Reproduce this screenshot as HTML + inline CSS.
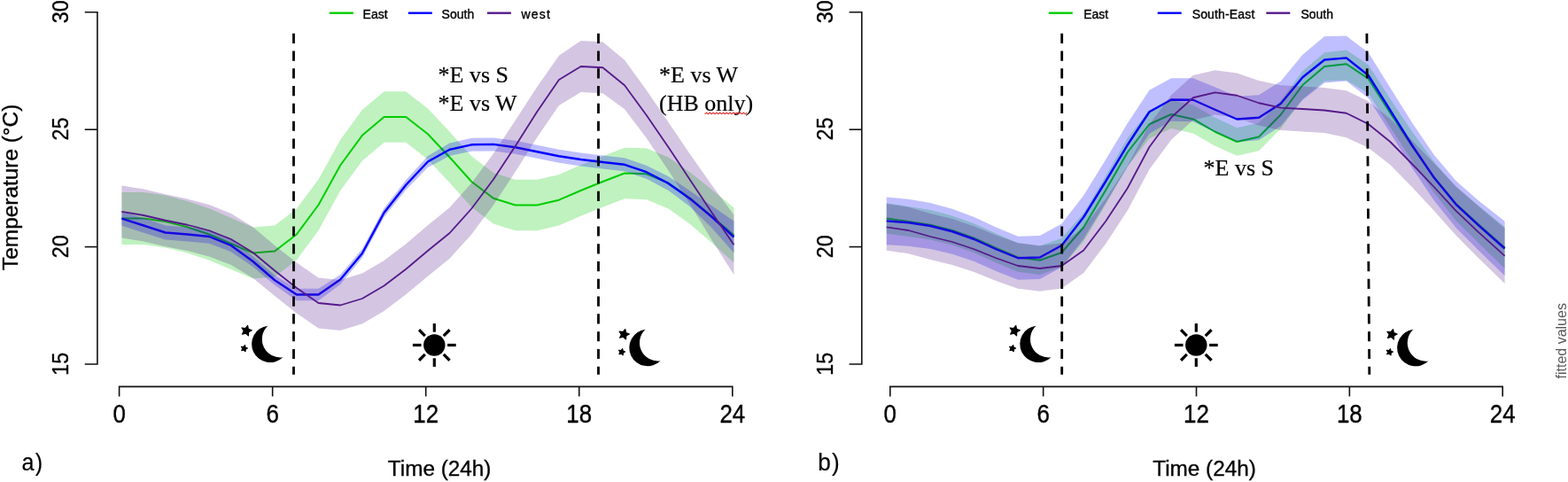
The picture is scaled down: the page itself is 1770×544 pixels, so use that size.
<!DOCTYPE html>
<html lang="en">
<head>
<meta charset="utf-8">
<title>Temperature over 24h by orientation</title>
<style>
html,body{margin:0;padding:0;background:#fff;}
body{width:1770px;height:544px;overflow:hidden;}
svg{display:block;}
text{font-family:"Liberation Sans",sans-serif;fill:#000;stroke:#000;stroke-width:.35px;paint-order:stroke;}
.band{fill-opacity:.25;stroke:none;}
.ln{fill:none;stroke-width:2;stroke-linejoin:round;}
.ln.b{stroke-width:2.4;}
.ln.p{stroke-width:1.8;}
.ax{fill:none;stroke:#111;stroke-width:1.6;}
.dash{fill:none;stroke:#000;stroke-width:2.8;stroke-dasharray:11.2 8.59;}
.yt{font-size:25px;text-anchor:middle;}
.xt{font-size:28px;text-anchor:middle;}
.yl{font-size:24.5px;text-anchor:middle;}
.xl{font-size:24.2px;text-anchor:middle;}
.pl{font-size:27px;letter-spacing:1.2px;stroke-width:.2px;}
.lt{font-size:14px;}
.lg{fill:none;stroke-width:2.4;}
.an{font-family:"Liberation Serif",serif;font-size:26px;stroke-width:.2px;}
.fv{font-size:16px;fill:#595959;stroke:none;}
.ico{fill:#000;}
.st{stroke:#000;stroke-width:1.1;stroke-linejoin:round;}
.ray{stroke:#000;stroke-width:3.2;}
.sq{fill:none;stroke:#e32222;stroke-width:1.15;}
</style>
</head>
<body>
<svg width="1770" height="544" viewBox="0 0 1770 544">
<rect width="1770" height="544" fill="#fff"/>
<g id="left">
<polygon class="band" fill="#00cd00" points="137.4,217.1 162.08,217 186.76,220.6 211.44,226.95 236.12,235.3 260.8,245.9 285.48,256.5 310.16,254.5 334.84,235.6 359.52,202.45 384.2,157.7 408.88,124 433.56,103.2 458.24,103.2 482.92,122.45 507.6,148.7 532.28,176.2 556.96,194.95 581.64,202.7 606.32,202.7 631,196.9 655.68,186.2 680.36,176.2 705.04,166.7 729.72,167.35 754.4,177.5 779.08,194.5 803.76,214.2 828.44,234.5 828.44,296.5 803.76,274.2 779.08,253.1 754.4,235.5 729.72,225.15 705.04,224.3 680.36,233.8 655.68,243.8 631,254.5 606.32,260.3 581.64,260.3 556.96,252.55 532.28,233.8 507.6,206.3 482.92,180.05 458.24,160.8 433.56,160.8 408.88,181.6 384.2,215.3 359.52,260.05 334.84,293.4 310.16,312.5 285.48,314.5 260.8,304.1 236.12,293.7 211.44,285.55 186.76,279.4 162.08,276 137.4,276.1"/>
<polyline class="ln g" stroke="#00cd00" points="137.4,246.6 162.08,246.5 186.76,250 211.44,256.25 236.12,264.5 260.8,275 285.48,285.5 310.16,283.5 334.84,264.5 359.52,231.25 384.2,186.5 408.88,152.8 433.56,132 458.24,132 482.92,151.25 507.6,177.5 532.28,205 556.96,223.75 581.64,231.5 606.32,231.5 631,225.7 655.68,215 680.36,205 705.04,195.5 729.72,196.25 754.4,206.5 779.08,223.8 803.76,244.2 828.44,265.5"/>
<polygon class="band" fill="#0000ff" points="137.4,238.4 162.08,246.3 186.76,254.5 211.44,256.5 236.12,259.2 260.8,269.8 285.48,289 310.16,310.75 334.84,325.7 359.52,325.7 384.2,310 408.88,281 433.56,235 458.24,203.3 482.92,176 507.6,161.55 532.28,155.8 556.96,155.4 581.64,158.75 606.32,163.75 631,168.75 655.68,172.5 680.36,175.5 705.04,178.3 729.72,186.7 754.4,198.9 779.08,215.4 803.76,232.5 828.44,249.5 828.44,285.5 803.76,257.5 779.08,233.4 754.4,214.9 729.72,201.7 705.04,193.3 680.36,190.5 655.68,187.5 631,183.75 606.32,178.75 581.64,173.75 556.96,170.4 532.28,170.8 507.6,175.95 482.92,189 458.24,214.3 433.56,245 408.88,291 384.2,321 359.52,339.3 334.84,339.3 310.16,321.75 285.48,301 260.8,284.2 236.12,274.8 211.44,272.5 186.76,270.5 162.08,262.7 137.4,254.8"/>
<polyline class="ln b" stroke="#0000ff" points="137.4,246.6 162.08,254.5 186.76,262.5 211.44,264.5 236.12,267 260.8,277 285.48,295 310.16,316.25 334.84,332.5 359.52,332.5 384.2,315.5 408.88,286 433.56,240 458.24,208.8 482.92,182.5 507.6,168.75 532.28,163.3 556.96,162.9 581.64,166.25 606.32,171.25 631,176.25 655.68,180 680.36,183 705.04,185.8 729.72,194.2 754.4,206.9 779.08,224.4 803.76,245 828.44,267.5"/>
<polygon class="band" fill="#551a8b" points="137.4,209.4 162.08,213.5 186.76,219.35 211.44,224.45 236.12,231.05 260.8,241 285.48,256.2 310.16,276.9 334.84,296.5 359.52,313.5 384.2,316 408.88,308.5 433.56,294 458.24,275.15 482.92,254.3 507.6,234.2 532.28,206.6 556.96,173.5 581.64,136 606.32,98 631,62.8 655.68,46 680.36,47.25 705.04,67.65 729.72,101.8 754.4,137.8 779.08,174.2 803.76,209.3 828.44,242.6 828.44,310 803.76,271.3 779.08,230.7 754.4,192.2 729.72,155.7 705.04,123.35 680.36,105.25 655.68,104 631,119 606.32,155 581.64,194 556.96,231.5 532.28,264.4 507.6,291.8 482.92,311.7 458.24,332.35 433.56,351 408.88,365.5 384.2,373 359.52,370.5 334.84,353.5 310.16,334.1 285.48,313.8 260.8,299 236.12,289.45 211.44,283.05 186.76,278.15 162.08,272.5 137.4,268.4"/>
<polyline class="ln p" stroke="#551a8b" points="137.4,238.9 162.08,243 186.76,248.75 211.44,253.75 236.12,260.25 260.8,270 285.48,285 310.16,305.5 334.84,325 359.52,342 384.2,344.5 408.88,337 433.56,322.5 458.24,303.75 482.92,283 507.6,263 532.28,235.5 556.96,202.5 581.64,165 606.32,126 631,90 655.68,75 680.36,76.25 705.04,96.25 729.72,130 754.4,166 779.08,203.2 803.76,240.3 828.44,276.3"/>
<path class="dash" d="M331.5 37.7V422.7M675.5 37.7V422.7"/>
<path class="ax" d="M95.7 13.8 H109.9 V411 H95.7"/>
<path class="ax" d="M95.7 146.2 H109.9"/>
<path class="ax" d="M95.7 278.6 H109.9"/>
<path class="ax" d="M134.6 447.4 V436.4 H826.8 V447.4"/>
<path class="ax" d="M307.65 436.4 V447.4"/>
<path class="ax" d="M480.7 436.4 V447.4"/>
<path class="ax" d="M653.75 436.4 V447.4"/>
<text class="yt" transform="translate(76.8 13.2) rotate(-90) scale(.93 1)">30</text>
<text class="yt" transform="translate(76.8 145.6) rotate(-90) scale(.93 1)">25</text>
<text class="yt" transform="translate(76.8 278.3) rotate(-90) scale(.93 1)">20</text>
<text class="yt" transform="translate(76.8 410.7) rotate(-90) scale(.93 1)">15</text>
<text class="xt" transform="translate(134.6 476.8) scale(.925 1.035)">0</text>
<text class="xt" transform="translate(307.65 476.8) scale(.925 1.035)">6</text>
<text class="xt" transform="translate(480.7 476.8) scale(.925 1.035)">12</text>
<text class="xt" transform="translate(653.75 476.8) scale(.925 1.035)">18</text>
<text class="xt" transform="translate(826.8 476.8) scale(.925 1.035)">24</text>
<text class="yl" transform="translate(20.3 211.3) rotate(-90) scale(.996 1)">Temperature (°C)</text>
<text class="xl" transform="translate(496.1 536.9) scale(1.005 1)">Time (24h)</text>
<text class="pl" transform="translate(24.6 530.7) scale(.93 1.02)">a)</text>
<path class="lg" stroke="#00cd00" d="M371.9 14.7h27"/>
<text class="lt" x="409.6" y="21.3">East</text>
<path class="lg" stroke="#0000ff" d="M460.8 14.7h27"/>
<text class="lt" x="498.6" y="21.3">South</text>
<path class="lg" stroke="#551a8b" d="M549.9 14.7h27"/>
<text class="lt" x="588.4" y="21.3" textLength="32.6">west</text>
<g class="ico"><g transform="translate(304.9 388.3)"><path d="M-2.57 -20.64 A20.8 20.8 0 1 0 14.46 14.95 A20.7 20.7 0 0 1 -2.57 -20.64 Z"/><polygon class="st" points="-25.32,-20.92 -24.5,-16.93 -20.71,-15.43 -24.26,-13.41 -24.51,-9.34 -27.53,-12.09 -31.47,-11.08 -29.79,-14.79 -31.97,-18.23 -27.92,-17.78"/><polygon class="st" points="-28.38,1.21 -27.84,3.68 -25.51,4.63 -27.69,5.91 -27.88,8.42 -29.76,6.74 -32.21,7.34 -31.2,5.03 -32.52,2.89 -30.01,3.14"/></g><g transform="translate(490.3 389.5)"><circle r="12.2"/><line class="ray" x1="0" y1="-14.8" x2="0" y2="-24.4" transform="rotate(0)"/><line class="ray" x1="0" y1="-14.8" x2="0" y2="-24.4" transform="rotate(45)"/><line class="ray" x1="0" y1="-14.8" x2="0" y2="-24.4" transform="rotate(90)"/><line class="ray" x1="0" y1="-14.8" x2="0" y2="-24.4" transform="rotate(135)"/><line class="ray" x1="0" y1="-14.8" x2="0" y2="-24.4" transform="rotate(180)"/><line class="ray" x1="0" y1="-14.8" x2="0" y2="-24.4" transform="rotate(225)"/><line class="ray" x1="0" y1="-14.8" x2="0" y2="-24.4" transform="rotate(270)"/><line class="ray" x1="0" y1="-14.8" x2="0" y2="-24.4" transform="rotate(315)"/></g><g transform="translate(731.1 392.4)"><path d="M-2.57 -20.64 A20.8 20.8 0 1 0 14.46 14.95 A20.7 20.7 0 0 1 -2.57 -20.64 Z"/><polygon class="st" points="-25.32,-20.92 -24.5,-16.93 -20.71,-15.43 -24.26,-13.41 -24.51,-9.34 -27.53,-12.09 -31.47,-11.08 -29.79,-14.79 -31.97,-18.23 -27.92,-17.78"/><polygon class="st" points="-28.38,1.21 -27.84,3.68 -25.51,4.63 -27.69,5.91 -27.88,8.42 -29.76,6.74 -32.21,7.34 -31.2,5.03 -32.52,2.89 -30.01,3.14"/></g></g>
<text class="an" x="494.6" y="93.4">*E vs S</text>
<text class="an" x="494.6" y="124.7">*E vs W</text>
<text class="an" x="744" y="93.4">*E vs W</text>
<text class="an" x="744.1" y="124.7">(HB only)</text>
<path class="sq" d="M795.6 128.6l1.9 -1.3l1.9 1.3l1.9 -1.3l1.9 1.3l1.9 -1.3l1.9 1.3l1.9 -1.3l1.9 1.3l1.9 -1.3l1.9 1.3l1.9 -1.3l1.9 1.3l1.9 -1.3l1.9 1.3l1.9 -1.3l1.9 1.3l1.9 -1.3l1.9 1.3l1.9 -1.3l1.9 1.3l1.9 -1.3l1.9 1.3l1.9 -1.3l1.9 1.3l1.9 -1.3"/>
</g>
<g id="right">
<polygon class="band" fill="#00cd00" points="1000.75,229.2 1025.47,233 1050.19,236.95 1074.91,243.4 1099.63,252.25 1124.35,263.6 1149.07,274.2 1173.79,277.55 1198.51,268.8 1223.23,240.4 1247.95,199 1272.67,156 1297.39,124.25 1322.11,113 1346.83,118.4 1371.55,132.75 1396.27,144.2 1420.99,138.7 1445.71,113.7 1470.43,80.2 1495.15,59.2 1519.87,56.45 1544.59,72.95 1569.31,111.5 1594.03,148.5 1618.75,182.5 1643.47,211 1668.19,231.5 1692.91,251.5 1698.6,256 1698.6,303 1692.91,297.5 1668.19,273.5 1643.47,249 1618.75,217.5 1594.03,181.5 1569.31,143.5 1544.59,105.55 1519.87,90.55 1495.15,91.6 1470.43,111.8 1445.71,145.3 1420.99,170.3 1396.27,175.8 1371.55,164.75 1346.83,150.4 1322.11,145 1297.39,156.25 1272.67,188 1247.95,231 1223.23,272.6 1198.51,301.2 1173.79,309.95 1149.07,306.8 1124.35,296.4 1099.63,285.25 1074.91,276.6 1050.19,270.55 1025.47,267 1000.75,263.6"/>
<polyline class="ln g" stroke="#00cd00" points="1000.75,246.4 1025.47,250 1050.19,253.75 1074.91,260 1099.63,268.75 1124.35,280 1149.07,290.5 1173.79,293.75 1198.51,285 1223.23,256.5 1247.95,215 1272.67,172 1297.39,140.25 1322.11,129 1346.83,134.4 1371.55,148.75 1396.27,160 1420.99,154.5 1445.71,129.5 1470.43,96 1495.15,75 1519.87,72.25 1544.59,88.75 1569.31,127.5 1594.03,165 1618.75,200 1643.47,230 1668.19,252.5 1692.91,274.5 1698.6,279.5"/>
<polygon class="band" fill="#0000ff" points="1000.75,222.5 1025.47,224.75 1050.19,229 1074.91,235.75 1099.63,245 1124.35,256.45 1149.07,266.65 1173.79,265.9 1198.51,252.5 1223.23,220.6 1247.95,180.6 1272.67,139.35 1297.39,101.85 1322.11,88.2 1346.83,88.15 1371.55,98.35 1396.27,108.7 1420.99,107.15 1445.71,91.8 1470.43,61.75 1495.15,40.9 1519.87,40.6 1544.59,59.2 1569.31,98.9 1594.03,138.5 1618.75,174.7 1643.47,204 1668.19,225.7 1692.91,245.2 1698.6,249.7 1698.6,311.3 1692.91,305.8 1668.19,281.7 1643.47,257 1618.75,226.3 1594.03,189.5 1569.31,149.9 1544.59,110.8 1519.87,91.4 1495.15,93.5 1470.43,112.75 1445.71,142.2 1420.99,158.35 1396.27,160.3 1371.55,149.15 1346.83,137.35 1322.11,136.8 1297.39,150.65 1272.67,188.15 1247.95,229.4 1223.23,269.4 1198.51,301.5 1173.79,315.1 1149.07,315.85 1124.35,306.05 1099.63,295 1074.91,286.75 1050.19,281 1025.47,277.75 1000.75,276.3"/>
<polyline class="ln b" stroke="#0000ff" points="1000.75,249.4 1025.47,251.25 1050.19,255 1074.91,261.25 1099.63,270 1124.35,281.25 1149.07,291.25 1173.79,290.5 1198.51,277 1223.23,245 1247.95,205 1272.67,163.75 1297.39,126.25 1322.11,112.5 1346.83,112.75 1371.55,123.75 1396.27,134.5 1420.99,132.75 1445.71,117 1470.43,87.25 1495.15,67.5 1519.87,65.4 1544.59,85 1569.31,124.4 1594.03,164 1618.75,200.5 1643.47,230.5 1668.19,253.7 1692.91,275.5 1698.6,280.5"/>
<polygon class="band" fill="#551a8b" points="1000.75,229.9 1025.47,233.8 1050.19,241 1074.91,247.1 1099.63,255.45 1124.35,265.45 1149.07,274.3 1173.79,277.3 1198.51,274.4 1223.23,257 1247.95,224.6 1272.67,187.2 1297.39,140.8 1322.11,107.3 1346.83,85.05 1371.55,79.2 1396.27,82.55 1420.99,91.05 1445.71,96.3 1470.43,97.6 1495.15,99 1519.87,102.15 1544.59,114.2 1569.31,134 1594.03,158.7 1618.75,184.2 1643.47,210 1668.19,232 1692.91,252.9 1698.6,257.6 1698.6,320 1692.91,314.5 1668.19,290.6 1643.47,265.6 1618.75,237.8 1594.03,211.3 1569.31,186 1544.59,166.8 1519.87,155.35 1495.15,150 1470.43,148.4 1445.71,146.9 1420.99,141.45 1396.27,132.95 1371.55,129.6 1346.83,135.45 1322.11,157.7 1297.39,191.2 1272.67,237.8 1247.95,275.4 1223.23,308 1198.51,325.6 1173.79,328.7 1149.07,325.7 1124.35,317.05 1099.63,307.05 1074.91,298.9 1050.19,293 1025.47,286.2 1000.75,282.7"/>
<polyline class="ln p" stroke="#551a8b" points="1000.75,256.3 1025.47,260 1050.19,267 1074.91,273 1099.63,281.25 1124.35,291.25 1149.07,300 1173.79,303 1198.51,300 1223.23,282.5 1247.95,250 1272.67,212.5 1297.39,166 1322.11,132.5 1346.83,110.25 1371.55,104.4 1396.27,107.75 1420.99,116.25 1445.71,121.6 1470.43,123 1495.15,124.5 1519.87,127.75 1544.59,140 1569.31,160 1594.03,185 1618.75,211 1643.47,237.8 1668.19,261.3 1692.91,283.7 1698.6,288.8"/>
<path class="dash" d="M1198.7 37.7V422.7M1542.9 37.7L1545.8 422.7"/>
<path class="ax" d="M958.6 13.8 H972.8 V411 H958.6"/>
<path class="ax" d="M958.6 146.2 H972.8"/>
<path class="ax" d="M958.6 278.6 H972.8"/>
<path class="ax" d="M1004.8 447.4 V436.4 H1696.2 V447.4"/>
<path class="ax" d="M1177.65 436.4 V447.4"/>
<path class="ax" d="M1350.5 436.4 V447.4"/>
<path class="ax" d="M1523.35 436.4 V447.4"/>
<text class="yt" transform="translate(939.9 13.2) rotate(-90) scale(.93 1)">30</text>
<text class="yt" transform="translate(939.9 145.6) rotate(-90) scale(.93 1)">25</text>
<text class="yt" transform="translate(939.9 278.3) rotate(-90) scale(.93 1)">20</text>
<text class="yt" transform="translate(939.9 410.7) rotate(-90) scale(.93 1)">15</text>
<text class="xt" transform="translate(1004.8 476.8) scale(.925 1.035)">0</text>
<text class="xt" transform="translate(1177.65 476.8) scale(.925 1.035)">6</text>
<text class="xt" transform="translate(1350.5 476.8) scale(.925 1.035)">12</text>
<text class="xt" transform="translate(1523.35 476.8) scale(.925 1.035)">18</text>
<text class="xt" transform="translate(1696.2 476.8) scale(.925 1.035)">24</text>
<text class="xl" transform="translate(1359.5 536.9) scale(1.005 1)">Time (24h)</text>
<text class="pl" transform="translate(923.2 530.7) scale(.97 1.02)">b)</text>
<path class="lg" stroke="#00cd00" d="M1183.8 14.7h27"/>
<text class="lt" x="1223.2" y="21.3">East</text>
<path class="lg" stroke="#0000ff" d="M1306.7 14.7h27"/>
<text class="lt" x="1345.7" y="21.3" textLength="70.6">South-East</text>
<path class="lg" stroke="#551a8b" d="M1429.3 14.7h27"/>
<text class="lt" x="1468.4" y="21.3">South</text>
<g class="ico"><g transform="translate(1172.1 388.3)"><path d="M-2.57 -20.64 A20.8 20.8 0 1 0 14.46 14.95 A20.7 20.7 0 0 1 -2.57 -20.64 Z"/><polygon class="st" points="-25.32,-20.92 -24.5,-16.93 -20.71,-15.43 -24.26,-13.41 -24.51,-9.34 -27.53,-12.09 -31.47,-11.08 -29.79,-14.79 -31.97,-18.23 -27.92,-17.78"/><polygon class="st" points="-28.38,1.21 -27.84,3.68 -25.51,4.63 -27.69,5.91 -27.88,8.42 -29.76,6.74 -32.21,7.34 -31.2,5.03 -32.52,2.89 -30.01,3.14"/></g><g transform="translate(1350.3 389.5)"><circle r="12.2"/><line class="ray" x1="0" y1="-14.8" x2="0" y2="-24.4" transform="rotate(0)"/><line class="ray" x1="0" y1="-14.8" x2="0" y2="-24.4" transform="rotate(45)"/><line class="ray" x1="0" y1="-14.8" x2="0" y2="-24.4" transform="rotate(90)"/><line class="ray" x1="0" y1="-14.8" x2="0" y2="-24.4" transform="rotate(135)"/><line class="ray" x1="0" y1="-14.8" x2="0" y2="-24.4" transform="rotate(180)"/><line class="ray" x1="0" y1="-14.8" x2="0" y2="-24.4" transform="rotate(225)"/><line class="ray" x1="0" y1="-14.8" x2="0" y2="-24.4" transform="rotate(270)"/><line class="ray" x1="0" y1="-14.8" x2="0" y2="-24.4" transform="rotate(315)"/></g><g transform="translate(1597.9 392.5)"><path d="M-2.57 -20.64 A20.8 20.8 0 1 0 14.46 14.95 A20.7 20.7 0 0 1 -2.57 -20.64 Z"/><polygon class="st" points="-25.32,-20.92 -24.5,-16.93 -20.71,-15.43 -24.26,-13.41 -24.51,-9.34 -27.53,-12.09 -31.47,-11.08 -29.79,-14.79 -31.97,-18.23 -27.92,-17.78"/><polygon class="st" points="-28.38,1.21 -27.84,3.68 -25.51,4.63 -27.69,5.91 -27.88,8.42 -29.76,6.74 -32.21,7.34 -31.2,5.03 -32.52,2.89 -30.01,3.14"/></g></g>
<text class="an" x="1358.6" y="197.8">*E vs S</text>
<text class="fv" transform="translate(1768 427.5) rotate(-90)">fitted values</text>
</g>
</svg>
</body>
</html>
